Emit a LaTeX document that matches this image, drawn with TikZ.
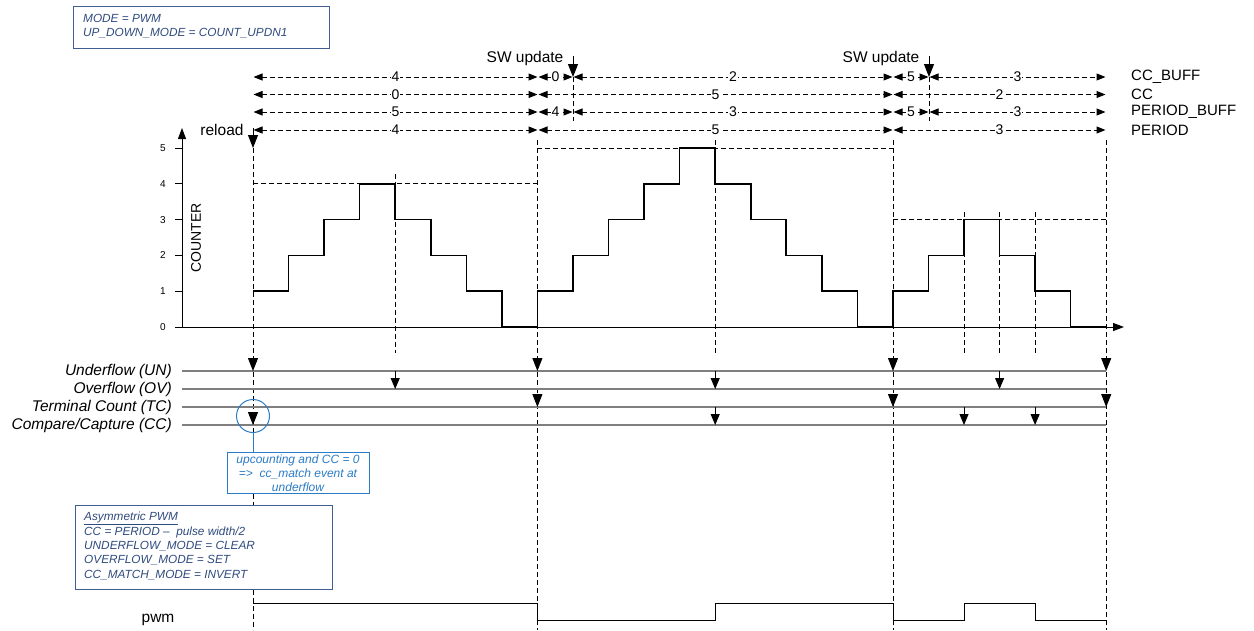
\documentclass[tikz,border=0pt]{standalone}
\usepackage{fontspec}
\setmainfont{Liberation Sans}
\usetikzlibrary{arrows.meta}
\definecolor{navy}{HTML}{2F4B7E}
\definecolor{navyline}{HTML}{3F5F93}
\definecolor{annblue}{HTML}{2B7CC6}
\definecolor{evgray}{HTML}{7F7F7F}
\begin{document}
\begin{tikzpicture}[x=1pt,y=-1pt,
  dimline/.style={line width=1pt, dash pattern=on 5pt off 3pt,
     {Triangle[length=9pt,width=7pt]}-{Triangle[length=9pt,width=7pt]}},
  dimlbl/.style={fill=white, inner sep=0.8pt, font=\fontsize{14}{15}\selectfont},
  vdash/.style={line width=1pt, dash pattern=on 5pt off 3pt},
  bigtip/.style={line width=1pt, -{Triangle[length=13pt,width=10pt]}},
  smalltip/.style={line width=1pt, -{Triangle[length=11pt,width=9pt]}},
  evline/.style={draw=evgray, line width=1.3pt},
  lbl/.style={font=\fontsize{15.5}{17}\selectfont, inner sep=1pt},
  rlbl/.style={font=\fontsize{15}{17}\selectfont, inner sep=1pt, anchor=west},
  evlbl/.style={font=\fontsize{15.5}{17}\selectfont\itshape, anchor=east, inner sep=1pt},
  ticklbl/.style={font=\fontsize{10}{12}\selectfont, inner sep=1pt},
  plotline/.style={line width=1.6pt, line join=miter},
  navybox/.style={draw=navyline, line width=1pt, fill=white},
  navytxt/.style={text=navy, align=left, inner sep=0pt}
]
\useasboundingbox (0,0) rectangle (1254,630);
\def\s{35.55}

% top-left box
\node[navybox, minimum width=256pt, minimum height=42pt, anchor=north west] (modebox) at (73,6) {};
\node[navytxt, font=\fontsize{11.8}{13.8}\selectfont\itshape, anchor=north west] (modetxt) at (83,14) {MODE = PWM\\UP\_DOWN\_MODE = COUNT\_UPDN1};

% dimension rows
\foreach \a/\b/\t/\y in {253/538/4/77, 538/573/0/77, 573/893/2/77, 893/929/5/77, 929/1106/3/77,
  253/538/0/94.5, 538/893/5/94.5, 893/1106/2/94.5,
  253/538/5/112, 538/573/4/112, 573/893/3/112, 893/929/5/112, 929/1106/3/112,
  253/538/4/130, 538/893/5/130, 893/1106/3/130}
  \draw[dimline] ({\a+0.5},\y) -- node[dimlbl]{\t} ({\b-0.5},\y);

\node[rlbl] (ccbuff) at (1130,77) {CC\_BUFF};
\node[rlbl] (cc) at (1130,94.5) {CC};
\node[rlbl] (perbuff) at (1130,112) {PERIOD\_BUFF};
\node[rlbl] (per) at (1130,130) {PERIOD};

% SW updates
\node[lbl] (sw1) at (525,58) {SW update};
\coordinate (sw1a) at (573,56);
\coordinate (sw1b) at (573,77);
\draw[bigtip] (sw1a) -- (sw1b);
\draw[vdash] (573,77) -- (573,121);
\node[lbl] (sw2) at (881,58) {SW update};
\coordinate (sw2a) at (929,56);
\coordinate (sw2b) at (929,77);
\draw[bigtip] (sw2a) -- (sw2b);
\draw[vdash] (929,77) -- (929,121);

% reload
\node[lbl] (reload) at (222,130) {reload};
\coordinate (rla) at (253,128);
\coordinate (rlb) at (253,148);
\draw[bigtip] (rla) -- (rlb);

% axes
\draw[line width=1pt, -{Triangle[length=11pt,width=8pt]}] (182,327) -- (182,128);
\draw[line width=1pt, -{Triangle[length=11pt,width=8pt]}] (175,327) -- (1124,327);
\foreach \v/\yy in {0/327,1/291.2,2/255.4,3/219.6,4/183.8,5/148}{
  \draw[line width=1pt] (175,\yy) -- (182,\yy);
  \node[ticklbl] at (163,\yy) {\v};
}
\node[font=\fontsize{14}{16}\selectfont, rotate=90, inner sep=1pt] (counter) at (196,238) {COUNTER};

% reference dashed lines
\draw[vdash] (253,183.8) -- (537.4,183.8);
\draw[vdash] (537.4,148) -- (893,148);
\draw[vdash] (893,219.6) -- (1106.2,219.6);

% vertical dashed lines
\draw[vdash] (253,148) -- (253,432);
\draw[vdash] (253,494) -- (253,630);
\draw[vdash] (537.4,140) -- (537.4,630);
\draw[vdash] (893,140) -- (893,630);
\draw[vdash] (1106.2,140) -- (1106.2,630);
\draw[vdash] (395.2,174) -- (395.2,353);
\draw[vdash] (715.2,140) -- (715.2,353);
\draw[vdash] (964,212) -- (964,353);
\draw[vdash] (999.6,212) -- (999.6,353);
\draw[vdash] (1035.1,212) -- (1035.1,353);

% counter step plot
\draw[plotline] (253,291.2)
  foreach \v [count=\i, remember=\v as \pv (initially 1)] in {2,3,4,3,2,1,0,1,2,3,4,5,4,3,2,1,0,1,2,3,2,1,0}
  { -- ({253+\i*\s},{327-35.8*\pv}) -- ({253+\i*\s},{327-35.8*\v}) }
  -- (1106.2,327);

% event lines
\foreach \n/\y/\t in {un/371/{Underflow (UN)}, ov/389/{Overflow (OV)}, tc/407/{Terminal Count (TC)}, ccl/425/{Compare/Capture (CC)}}{
  \draw[evline] (182,\y) -- (1106.2,\y);
  \node[evlbl] (\n) at (173,\y) {\t};
}

% big arrows on dashed lines
\foreach \x/\y in {253/371, 253/425, 537.4/371, 537.4/407, 893/371, 893/407, 1106.2/371, 1106.2/407}
  \draw[bigtip] (\x,\y-13) -- (\x,\y);

% small stem arrows
\foreach \x/\ya/\yb in {395.2/371/389, 715.2/371/389, 715.2/407/425, 999.6/371/389, 964/407/425, 1035.1/407/425}
  \draw[smalltip] (\x,\ya) -- (\x,\yb);

% annotation
\node[draw=annblue, line width=1pt, circle, minimum size=33pt, inner sep=0pt] (circ) at (253,416) {};
\node[draw=annblue, line width=1pt, fill=white, minimum width=142pt, minimum height=41pt, anchor=north west] (annbox) at (227,452) {};
\draw[annblue, line width=1pt] (circ.south) -- (annbox.north -| circ.south);
\node[text=annblue, font=\fontsize{12}{14}\selectfont\itshape, align=center, inner sep=0pt] (anntxt) at (298,473)
  {upcounting and CC = 0\\=>\ \ cc\_match event at\\underflow};

% PWM box
\node[navybox, minimum width=257pt, minimum height=84pt, anchor=north west] (pwmbox) at (75,505) {};
\node[navytxt, font=\fontsize{11.8}{14.4}\selectfont\itshape, anchor=north west] (pwmtxt) at (84,512)
  {\underline{Asymmetric PWM}\\CC = PERIOD --\ \ pulse width/2\\UNDERFLOW\_MODE = CLEAR\\OVERFLOW\_MODE = SET\\CC\_MATCH\_MODE = INVERT};

% pwm waveform
\node[lbl] (pwm) at (158,620) {pwm};
\draw[line width=1pt] (253,603) -- (537.4,603) -- (537.4,620) -- (715.2,620) -- (715.2,603) -- (893,603)
  -- (893,620) -- (964,620) -- (964,603) -- (1035.1,603) -- (1035.1,620) -- (1106.2,620);
\end{tikzpicture}
\end{document}
